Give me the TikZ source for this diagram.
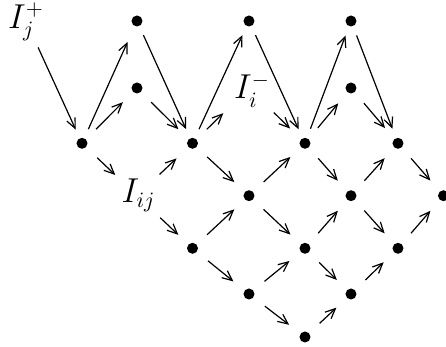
\documentclass[tikz,border=0pt]{standalone}
\usetikzlibrary{arrows.meta}
\begin{document}
\begin{tikzpicture}[x=0.5pt,y=-0.5pt,
  dot/.style={circle,fill,inner sep=0pt,minimum size=5.5pt},
  lbl/.style={inner sep=0pt,font=\fontsize{16}{19}\selectfont},
  arr/.style={line width=0.6pt,-{Straight Barb[length=5pt,width=4.5pt]}},
  longarr/.style={arr,shorten <=7.75pt,shorten >=7.75pt},
  shortarr/.style={arr,shorten <=10pt,shorten >=10pt}]
\useasboundingbox (0,0) rectangle (446,347);
% lattice points
\coordinate (p00) at (26,21);
\coordinate (p20) at (137,21);
\coordinate (p40) at (249,21);
\coordinate (p60) at (351,21);
\coordinate (p21) at (137,88);
\coordinate (p41) at (249,88);
\coordinate (p61) at (351,88);
\coordinate (p12) at (82,143.3);
\coordinate (p32) at (192.5,143.3);
\coordinate (p52) at (305,143.3);
\coordinate (p72) at (398,143.3);
\coordinate (p23) at (137,195.7);
\coordinate (p43) at (249,195.7);
\coordinate (p63) at (351,195.7);
\coordinate (p83) at (443.5,195.7);
\coordinate (p34) at (192.5,248.3);
\coordinate (p54) at (305,248.3);
\coordinate (p74) at (398,248.3);
\coordinate (p45) at (249,294);
\coordinate (p65) at (351,294);
\coordinate (p56) at (305,337);
% dots
\foreach \p in {20,40,60,21,61,12,32,52,72,43,63,83,34,54,74,45,65,56}
  \node[dot] (d\p) at (p\p) {};
% labels
\node[lbl] (Ijp) at (26,22) {$I_j^+$};
\node[lbl] (Iim) at (252,90.5) {$I_i^-$};
\node[lbl] (Iij) at (138.5,195.5) {$I_{ij}$};
% long arrows
\draw[arr,shorten <=14.5pt,shorten >=7.5pt] (p00) -- (p12);
\draw[arr,shorten <=7.75pt,shorten >=11.5pt] (p12) -- (p20);
\foreach \a/\b in {20/32,32/40,40/52,52/60,60/72}
  \draw[longarr] (p\a) -- (p\b);
% short arrows
\foreach \a/\b in {12/21,21/32,52/61,61/72,32/43,43/52,52/63,63/72,72/83,
  34/43,43/54,54/63,63/74,74/83,34/45,45/54,54/65,65/74,45/56,56/65}
  \draw[shortarr] (p\a) -- (p\b);
% arrows at labels
\draw[arr,shorten <=10pt,shorten >=18pt] (p32) -- (p41);
\draw[arr,shorten <=17.5pt,shorten >=10.5pt] (p41) -- (p52);
\draw[arr,shorten <=10.5pt,shorten >=15pt] (p12) -- (p23);
\draw[arr,shorten <=15.5pt,shorten >=11pt] (p23) -- (p32);
\draw[arr,shorten <=16pt,shorten >=9.75pt] (p23) -- (p34);
\end{tikzpicture}
\end{document}
